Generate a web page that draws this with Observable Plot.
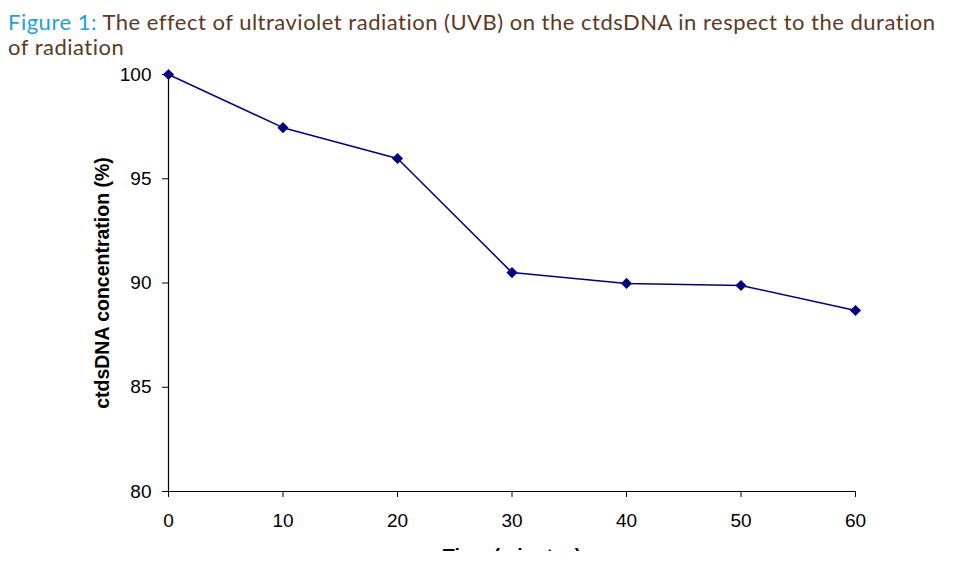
<!DOCTYPE html>
<html>
<head>
<meta charset="utf-8">
<script src="https://cdn.jsdelivr.net/npm/d3@7"></script>
<script src="https://cdn.jsdelivr.net/npm/@observablehq/plot@0.6"></script>
<style>
  html, body { margin: 0; padding: 0; background: white; }
  #title { height: 62px; box-sizing: border-box; padding: 9px 0 0 8px; font-family: Lato, "Open Sans", sans-serif; font-size: 22px; line-height: 25px; letter-spacing: 0.5px; color: #5b3a1e; white-space: nowrap; overflow: hidden; }
  #title .fig { color: #1ea0dc; }
  #chart { height: 489px; overflow: hidden; }
  #chart svg { font-family: 'Liberation Sans', Arial, sans-serif; font-size: 19px; color: black; background: white; }
</style>
</head>
<body>
<div id="title"><span class="fig">Figure 1:</span> The effect of ultraviolet radiation (UVB) on the ctdsDNA in respect to the duration<br>of radiation</div>
<div id="chart"></div>
<script>
const times = [0, 10, 20, 30, 40, 50, 60];
const concentration = [100, 97.45, 95.97, 90.5, 89.98, 89.88, 88.68];
const xTicks = [0, 10, 20, 30, 40, 50, 60];
const yTicks = [80, 85, 90, 95, 100];
const xTitle = "Time (minutes)";
const yTitle = "ctdsDNA concentration (%)";

const data = times.map((t, i) => ({time: t, value: concentration[i]}));

const plot = Plot.plot({
  width: 975,
  height: 489,
  marginLeft: 168,
  marginRight: 120,
  marginTop: 12,
  marginBottom: 60,
  x: {domain: [0, 60], ticks: xTicks, tickSize: 6, tickPadding: 16, label: null, tickFormat: d => String(d)},
  y: {domain: [80, 100], ticks: yTicks, tickSize: 6, tickPadding: 11, label: null, tickFormat: d => String(d)},
  marks: [
    Plot.ruleX([0], {y1: 80, y2: 100, stroke: "black", strokeWidth: 1.2}),
    Plot.ruleY([80], {x1: 0, x2: 60, stroke: "black", strokeWidth: 1.2}),
    Plot.line(data, {x: "time", y: "value", stroke: "#000080", strokeWidth: 1.5}),
    Plot.dot(data, {x: "time", y: "value", symbol: "diamond2", r: 5, fill: "#000080", stroke: "none"}),
    Plot.text([yTitle], {frameAnchor: "left", dx: -66, rotate: -90, textAnchor: "middle", lineAnchor: "middle", fontWeight: "bold", fontSize: 19.5, fill: "black"}),
    Plot.text([xTitle], {frameAnchor: "bottom", dy: 58, textAnchor: "middle", lineAnchor: "top", fontWeight: "bold", fontSize: 19.5, fill: "black"})
  ]
});
document.getElementById("chart").appendChild(plot);
</script>
</body>
</html>
